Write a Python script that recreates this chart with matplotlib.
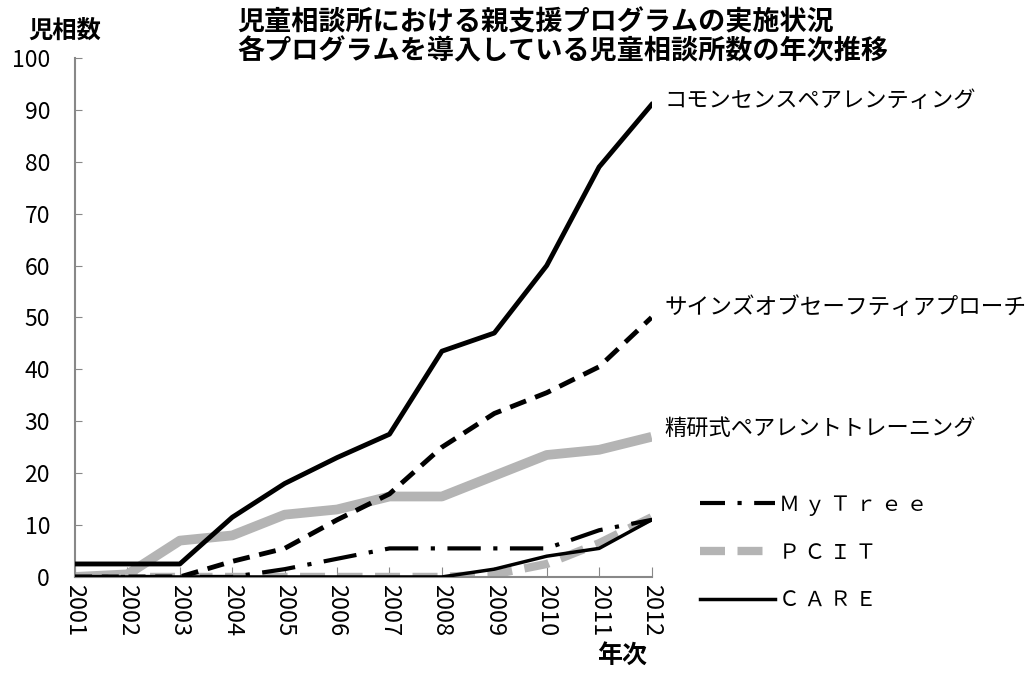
import matplotlib
matplotlib.use("Agg")
import matplotlib.pyplot as plt
from matplotlib.lines import Line2D

plt.rcParams['font.family'] = ['Noto Sans CJK JP', 'DejaVu Sans']

years = ['2001', '2002', '2003', '2004', '2005', '2006', '2007', '2008', '2009', '2010', '2011', '2012']
commonsense = [2.5, 2.5, 2.5, 11.5, 18, 23, 27.5, 43.5, 47, 60, 79, 91]
signs_of_safety = [0, 0, 0, 3, 5.5, 11, 16, 25, 31.5, 35.5, 40.5, 50]
seiken = [0, 0.5, 7, 8, 12, 13, 15.5, 15.5, 19.5, 23.5, 24.5, 27]
mytree = [0, 0, 0, 0, 1.5, 3.5, 5.5, 5.5, 5.5, 5.5, 9, 11]
pcit = [0, 0, 0, 0, 0, 0, 0, 0, 0.5, 2.5, 6.5, 11.5]
care = [0, 0, 0, 0, 0, 0, 0, 0, 1.5, 4, 5.5, 11]

label_commonsense = 'コモンセンスペアレンティング'
label_signs = 'サインズオブセーフティアプローチ'
label_seiken = '精研式ペアレントトレーニング'
legend_labels = ['Ｍ ｙ Ｔ ｒ ｅ ｅ', 'Ｐ Ｃ Ｉ Ｔ', 'Ｃ Ａ Ｒ Ｅ']
title_line1 = '児童相談所における親支援プログラムの実施状況'
title_line2 = '各プログラムを導入している児童相談所数の年次推移'

fig = plt.figure(figsize=(10.35, 6.74), dpi=100)
ax = fig.add_axes([0.0725, 0.144, 0.557, 0.770])

x = list(range(len(years)))
grey = '#b4b4b4'
ax.plot(x, seiken, color=grey, lw=7, solid_capstyle='butt', zorder=2)
ax.plot(x, pcit, color=grey, lw=6, dashes=(3, 1.5), zorder=2)
ax.plot(x, care, color='black', lw=2.5, zorder=3)
ax.plot(x, mytree, color='black', lw=3, dashes=(8, 3, 1, 3), zorder=3)
ax.plot(x, signs_of_safety, color='black', lw=3.5, dashes=(3.5, 2), zorder=3)
ax.plot(x, commonsense, color='black', lw=3.5, zorder=4)

ax.set_xlim(0, 11)
ax.set_ylim(0, 100)
ax.set_yticks(range(0, 101, 10))
ax.set_xticks(x)
ax.set_xticklabels(years, rotation=270, fontsize=17)
ax.tick_params(axis='y', labelsize=16.5, direction='in', length=5, color='#888888', pad=18)
ax.tick_params(axis='x', direction='in', length=7, color='#888888', pad=5)
for s in ['top', 'right']:
    ax.spines[s].set_visible(False)
for s in ['left', 'bottom']:
    ax.spines[s].set_color('#888888')
    ax.spines[s].set_linewidth(1.5)

fig.text(0.229, 0.967, title_line1, ha='left', va='center', fontsize=19.5, fontweight='bold')
fig.text(0.229, 0.923, title_line2, ha='left', va='center', fontsize=19.5, fontweight='bold')
fig.text(0.063, 0.955, '児相数', ha='center', va='center', fontsize=17.5, fontweight='bold')
fig.text(0.601, 0.027, '年次', ha='center', va='center', fontsize=18, fontweight='bold')

fig.text(0.642, 0.851, label_commonsense, ha='left', va='center', fontsize=16)
fig.text(0.642, 0.544, label_signs, ha='left', va='center', fontsize=16.3)
fig.text(0.642, 0.364, label_seiken, ha='left', va='center', fontsize=16)

handles = [
    Line2D([0], [0], color='black', lw=3, dashes=(6, 3, 1, 3)),
    Line2D([0], [0], color=grey, lw=6, dashes=(3, 1.5)),
    Line2D([0], [0], color='black', lw=2.5),
]
fig.legend(handles, legend_labels, loc='center left', bbox_to_anchor=(0.658, 0.18),
           frameon=False, fontsize=15, handlelength=3.6, handletextpad=0.2, labelspacing=1.25)

fig.savefig('out.png', dpi=100)
